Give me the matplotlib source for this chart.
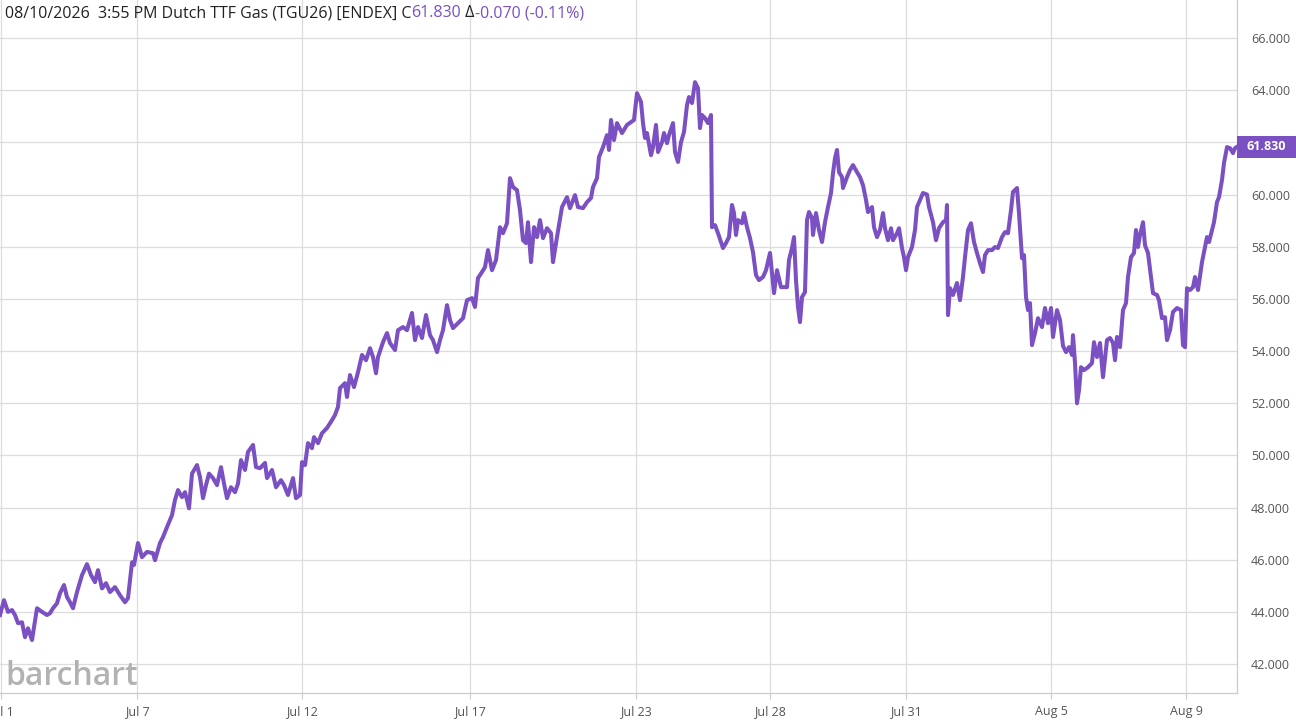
import matplotlib
matplotlib.use("Agg")
import matplotlib.pyplot as plt
from matplotlib.patches import Rectangle
from matplotlib.transforms import blended_transform_factory

# ---------------- data ----------------
bars = [0, 4, 8, 12, 15, 18, 22, 25, 28, 32, 37, 42, 47, 50, 53, 57, 60, 64, 67, 70,
        73, 77, 82, 87, 91, 95, 98, 102, 106, 110, 115, 120, 125, 128, 130, 132, 134, 138, 142, 147,
        153, 155, 160, 163, 167, 172, 175, 178, 182, 185, 189, 192, 197, 200, 203, 206, 209, 213, 217, 221,
        224, 227, 231, 235, 238, 241, 245, 248, 253, 256, 260, 265, 267, 272, 276, 281, 284, 288, 293, 296,
        300, 302, 305, 308, 312, 314, 318, 322, 327, 332, 335, 338, 340, 345, 347, 350, 354, 358, 362, 366,
        370, 373, 376, 378, 383, 387, 390, 395, 398, 403, 407, 412, 415, 418, 422, 426, 430, 433, 437, 440,
        443, 447, 450, 453, 458, 463, 467, 472, 475, 478, 482, 485, 488, 492, 496, 500, 503, 507, 510, 513,
        517, 520, 523, 526, 528, 531, 534, 537, 540, 543, 547, 551, 553, 557, 562, 567, 570, 575, 578, 583,
        587, 591, 593, 597, 599, 603, 607, 609, 611, 614, 617, 622, 627, 631, 634, 637, 641, 643, 645, 647,
        651, 653, 656, 658, 662, 664, 667, 669, 673, 675, 678, 681, 684, 687, 689, 692, 695, 698, 700, 702,
        705, 708, 711, 712, 715, 718, 723, 726, 729, 732, 734, 736, 738, 742, 744, 747, 750, 753, 756, 759,
        763, 766, 770, 774, 777, 781, 783, 787, 789, 792, 794, 796, 798, 800, 802, 805, 807, 809, 812, 813,
        816, 819, 822, 825, 828, 831, 833, 835, 837, 839, 842, 843, 847, 850, 853, 857, 860, 863, 866, 868,
        872, 874, 877, 880, 883, 885, 888, 891, 893, 897, 899, 902, 904, 906, 908, 912, 915, 917, 920, 923,
        927, 929, 933, 936, 939, 943, 946, 947, 948, 950, 953, 957, 960, 963, 965, 968, 971, 974, 977, 980,
        983, 985, 988, 992, 995, 998, 1002, 1005, 1008, 1011, 1013, 1017, 1019, 1022, 1024, 1026, 1028, 1030, 1032, 1035,
        1038, 1042, 1045, 1048, 1051, 1053, 1057, 1060, 1063, 1066, 1069, 1072, 1073, 1075, 1077, 1079, 1081, 1084, 1088, 1092,
        1094, 1097, 1100, 1103, 1107, 1110, 1113, 1115, 1117, 1120, 1123, 1126, 1128, 1131, 1134, 1136, 1138, 1140, 1143, 1145,
        1148, 1151, 1153, 1157, 1159, 1162, 1165, 1167, 1170, 1173, 1177, 1181, 1183, 1185, 1187, 1190, 1193, 1195, 1198, 1202,
        1205, 1207, 1209, 1212, 1214, 1217, 1219, 1222, 1224, 1227, 1230, 1233, 1235, 1237]

prices = [43.88, 44.45, 44.00, 44.07, 43.88, 43.57, 43.60, 43.03, 43.37, 42.92, 44.14, 44.00, 43.88, 43.95, 44.14, 44.33, 44.72, 45.03, 44.57, 44.37,
          44.14, 44.76, 45.41, 45.83, 45.41, 45.14, 45.60, 44.90, 45.10, 44.76, 44.95, 44.64, 44.37, 44.53, 45.20, 45.90, 45.80, 46.64, 46.10, 46.30,
          46.25, 45.98, 46.64, 46.87, 47.25, 47.71, 48.29, 48.67, 48.40, 48.59, 47.97, 49.30, 49.63, 49.17, 48.36, 48.86, 49.30, 49.13, 48.86, 49.55,
          48.92, 48.36, 48.78, 48.59, 48.92, 49.82, 49.44, 50.13, 50.40, 49.55, 49.51, 49.71, 49.13, 49.44, 48.78, 49.05, 48.86, 48.48, 49.13, 48.36,
          48.48, 49.74, 49.63, 50.47, 50.28, 50.70, 50.47, 50.85, 51.05, 51.35, 51.55, 51.86, 52.58, 52.77, 52.24, 53.08, 52.62, 53.19, 53.85, 53.65,
          54.11, 53.77, 53.15, 53.77, 54.34, 54.69, 54.31, 54.04, 54.80, 54.92, 54.80, 55.46, 54.42, 54.92, 54.50, 55.38, 54.61, 54.42, 53.96, 54.42,
          54.80, 55.76, 55.19, 54.88, 55.07, 55.26, 55.95, 56.03, 55.69, 56.80, 57.03, 57.22, 57.87, 57.10, 57.49, 58.75, 58.52, 58.90, 60.63, 60.29,
          60.17, 59.40, 58.25, 58.14, 58.94, 57.41, 58.75, 58.37, 59.02, 58.33, 58.71, 58.52, 57.41, 58.37, 59.52, 59.90, 59.48, 59.98, 59.52, 59.48,
          59.71, 59.87, 60.29, 60.63, 61.44, 61.82, 62.28, 61.71, 62.86, 62.09, 62.74, 62.36, 62.67, 62.78, 62.86, 63.89, 63.55, 62.74, 62.17, 62.36,
          61.51, 61.82, 62.67, 61.63, 62.01, 62.36, 61.97, 62.28, 62.74, 61.63, 61.25, 62.01, 62.40, 63.43, 63.74, 63.51, 64.31, 64.08, 62.55, 63.05,
          62.93, 62.74, 63.05, 58.75, 58.83, 58.52, 57.95, 58.14, 58.37, 59.60, 59.29, 58.45, 59.02, 58.90, 59.29, 58.75, 58.33, 57.79, 56.91, 56.72,
          56.84, 57.10, 57.76, 56.22, 57.10, 56.45, 56.45, 56.45, 57.49, 57.95, 58.37, 56.72, 55.69, 55.11, 56.07, 56.26, 59.02, 59.33, 59.10, 58.45,
          59.29, 58.64, 58.18, 58.94, 59.52, 60.06, 60.82, 61.40, 61.71, 60.86, 60.67, 60.25, 60.67, 60.94, 61.13, 60.86, 60.67, 60.36, 59.79, 59.33,
          59.52, 58.75, 58.37, 58.64, 59.29, 58.71, 58.25, 58.71, 58.25, 58.52, 58.71, 57.95, 57.60, 57.10, 57.60, 57.99, 58.64, 59.52, 59.79, 60.06,
          60.00, 59.52, 58.94, 58.25, 58.71, 58.94, 59.02, 59.60, 55.38, 56.41, 56.15, 56.61, 55.95, 56.84, 57.60, 58.64, 58.90, 58.18, 57.76, 57.37,
          57.03, 57.68, 57.87, 57.87, 57.99, 57.95, 58.37, 58.56, 58.52, 59.40, 60.10, 60.25, 59.29, 57.56, 57.68, 56.07, 55.57, 55.84, 54.23, 54.69,
          55.26, 54.92, 55.65, 55.07, 55.65, 54.54, 55.57, 55.19, 54.20, 53.96, 54.15, 53.85, 54.61, 53.54, 52.00, 52.50, 53.38, 53.27, 53.38, 53.54,
          54.34, 53.77, 54.31, 53.00, 54.42, 54.50, 54.31, 53.65, 54.54, 54.15, 55.57, 55.84, 56.84, 57.60, 57.76, 58.64, 57.99, 58.45, 58.94, 58.06,
          57.76, 56.84, 56.22, 56.15, 55.95, 55.26, 55.30, 54.42, 54.80, 55.50, 55.65, 55.57, 54.23, 54.15, 56.41, 56.34, 56.45, 56.84, 56.34, 57.41,
          57.99, 58.37, 58.18, 58.64, 58.94, 59.71, 59.90, 60.56, 61.21, 61.82, 61.78, 61.59, 61.78, 61.83]

tick_bars = [1, 137, 302, 470, 636, 770, 906, 1051, 1186]
tick_labels = ["Jul 1", "Jul 7", "Jul 12", "Jul 17", "Jul 23", "Jul 28", "Jul 31", "Aug 5", "Aug 9"]
y_ticks = [42, 44, 46, 48, 50, 52, 54, 56, 58, 60, 62, 64, 66]
hidden_y_label = 62  # covered by the last-price marker in the reference

last_price = 61.830
change = -0.070
change_pct = -0.11
title_prefix = "08/10/2026  3:55 PM Dutch TTF Gas (TGU26) [ENDEX] C"

# ---------------- style ----------------
PURPLE = "#7a50c2"
GRID = "#dcdcdc"
TXT = "#555555"
FONT = ["Open Sans", "DejaVu Sans"]
plt.rcParams["font.family"] = FONT

W, H = 1296, 721
fig = plt.figure(figsize=(W / 100, H / 100), dpi=100)
fig.patch.set_facecolor("white")
ax = fig.add_axes([0, 28 / H, 1237 / W, 693 / H])
ax.set_facecolor("white")

ax.plot(bars, prices, color=PURPLE, lw=2.9, solid_joinstyle="round", zorder=3)

ax.set_xlim(0, 1237)
ax.set_ylim(40.89, 67.46)

ax.set_xticks(tick_bars)
ax.set_xticklabels(tick_labels)
ax.set_yticks(y_ticks)
ax.set_yticklabels(["" if v == hidden_y_label else f"{v:.3f}" for v in y_ticks])
ax.yaxis.tick_right()
ax.tick_params(axis="y", length=0, pad=10, labelsize=9, labelcolor=TXT)
ax.tick_params(axis="x", length=4, width=0.8, color="#cccccc", pad=5, labelsize=9, labelcolor=TXT)

ax.grid(True, color=GRID, lw=0.9, zorder=0)
ax.set_axisbelow(True)
for s in ["top", "left"]:
    ax.spines[s].set_visible(False)
for s in ["right", "bottom"]:
    ax.spines[s].set_color("#cccccc")
    ax.spines[s].set_linewidth(0.9)

# last price marker on the right axis
tr = blended_transform_factory(ax.transAxes, ax.transData)
box_w = (W - 1237) / 1237
box_h = 22 / 693 * (67.46 - 40.89)
ax.add_patch(Rectangle((1.0, last_price - box_h / 2), box_w, box_h, transform=tr,
                       facecolor=PURPLE, edgecolor="none", clip_on=False, zorder=5))
ax.text(1.0 + box_w / 2, last_price, f"{last_price:.3f}", transform=tr, ha="center", va="center",
        color="white", fontsize=9, fontweight="bold", zorder=6, clip_on=False)

# watermark
fig.text(5 / W, 1 - 685 / H, "barchart", fontsize=23, color="#b2b2b2",
         fontweight="semibold", va="baseline", ha="left", zorder=1)

# title line (multi-coloured)
fig.canvas.draw()
r = fig.canvas.get_renderer()
pieces = [(title_prefix, "#222222"), (f"{last_price:.3f}", PURPLE), (" \u0394", "#222222"),
          (f"{change:.3f} ({change_pct:.2f}%)", PURPLE)]
x = 5
for s, c in pieces:
    t = fig.text(x / W, 1 - 13 / H, s, fontsize=11.5, color=c, va="center", ha="left")
    bb = t.get_window_extent(r)
    x = bb.x1

fig.savefig("out.png", dpi=100, facecolor="white")
